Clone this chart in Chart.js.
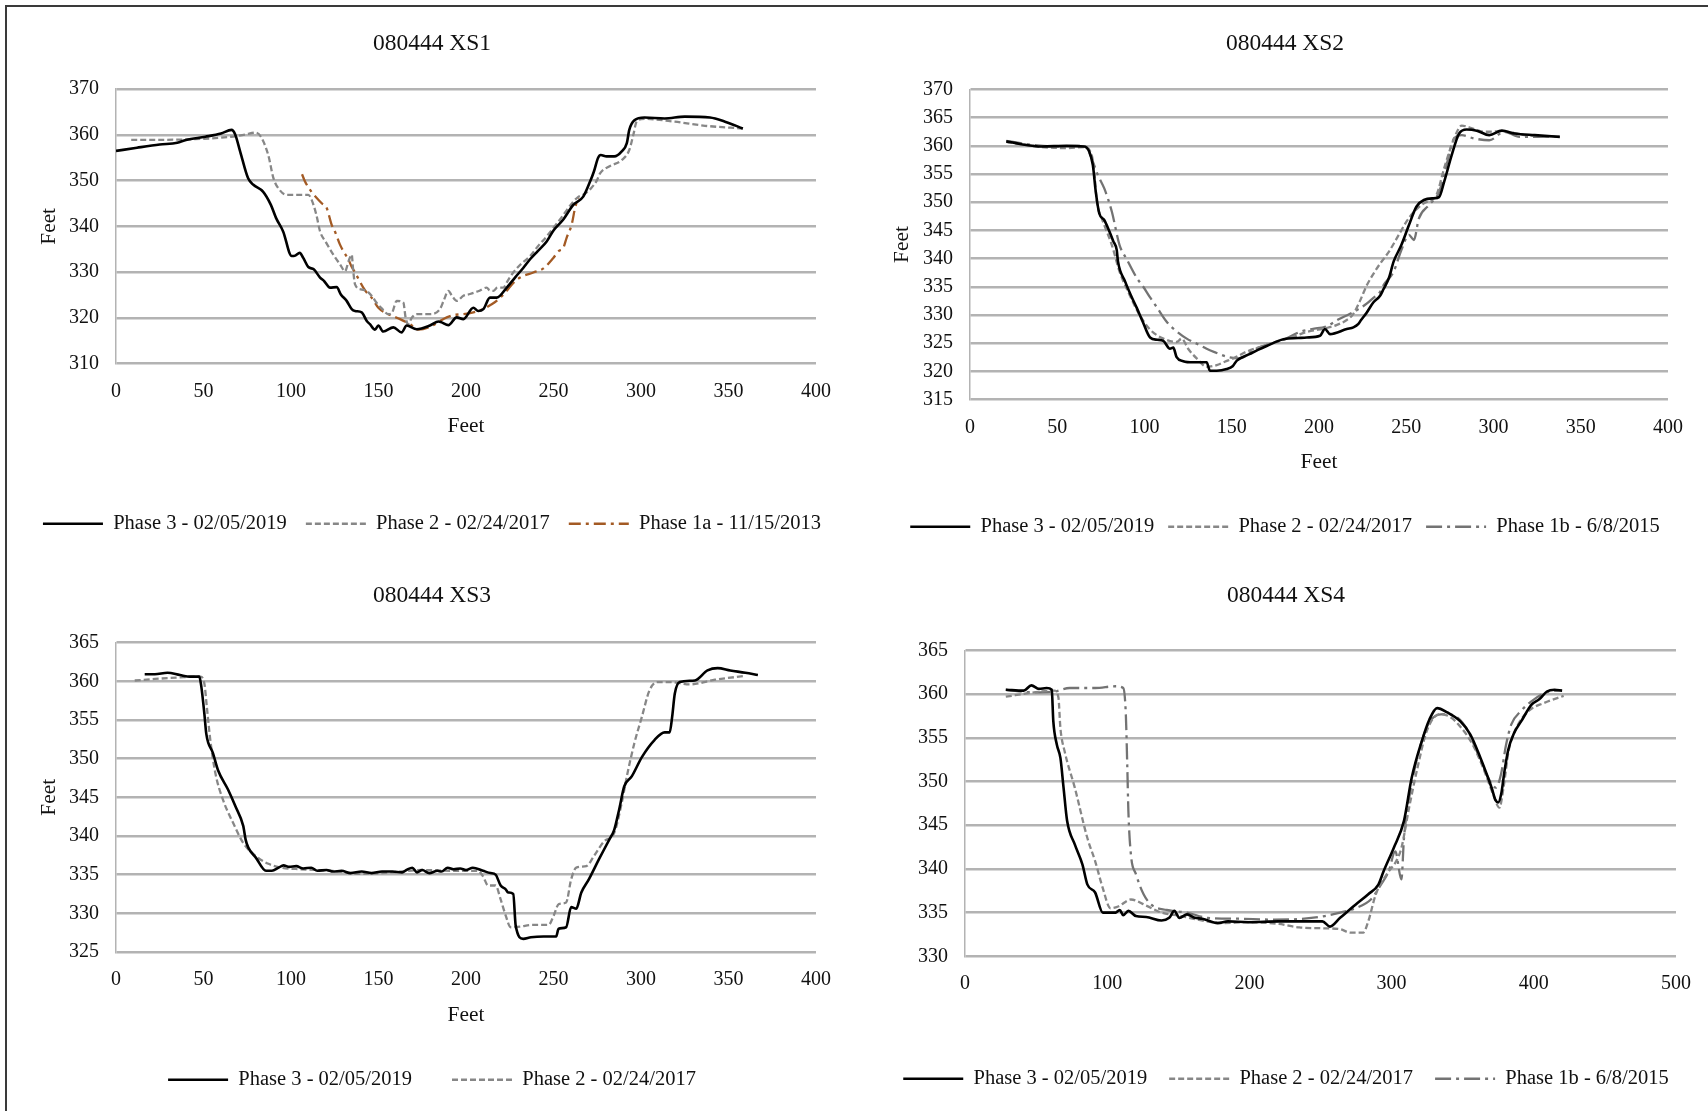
<!DOCTYPE html>
<html>
<head>
<meta charset="utf-8">
<title>080444 cross sections</title>
<script src="https://cdn.jsdelivr.net/npm/chart.js@4.4.1/dist/chart.umd.min.js"></script>
<style>
  html, body { margin: 0; padding: 0; background: #fff; }
  #page { position: relative; width: 1708px; height: 1111px; overflow: hidden; background: #fff; }
  #frame { position: absolute; left: 5px; top: 5px; right: -10px; bottom: -10px;
           border-top: 2px solid #3a3a3a; border-left: 2px solid #3a3a3a; }
  canvas { position: absolute; }
</style>
</head>
<body>
<div id="page">
  <div id="frame"></div>
  <canvas id="xs1" width="844" height="534" style="left:10px;top:10px;width:844px;height:534px"></canvas>
  <canvas id="xs2" width="846" height="537" style="left:862px;top:10px;width:846px;height:537px"></canvas>
  <canvas id="xs3" width="844" height="535" style="left:10px;top:565px;width:844px;height:535px"></canvas>
  <canvas id="xs4" width="844" height="534" style="left:864px;top:565px;width:844px;height:534px"></canvas>
</div>
<script>
// ── data: [station (ft), elevation (ft)] ──
const XS1_P3 = [[0,356.5],[12,357.2],[25,357.9],[35,358.3],[40,358.9],[51,359.6],[60,360.3],[66,361.1],[68,360.2],[71,356.3],[75.5,350.5],[78.5,349.1],[84,347.6],[88.5,344.7],[91.5,341.8],[95.5,338.9],[100.4,333.5],[102.4,333.6],[105,334.2],[107,333.1],[109.9,331.1],[113,330.6],[116.6,328.8],[119,328],[122.3,326.6],[126.1,326.7],[128.5,325.1],[131.8,323.7],[134.7,321.9],[136.6,321.5],[140.4,321.2],[143.3,319.3],[145.1,318.6],[148,317.4],[149.9,318.3],[152.7,317],[158.5,317.9],[163.2,316.8],[166.1,318.3],[171.8,317.5],[179.4,318.3],[184.3,319.2],[186.1,319],[189.9,318.4],[194.7,320.1],[198.5,319.7],[204.2,322.2],[207,321.5],[209.9,321.9],[213.7,324.4],[217.5,324.4],[223.3,326.6],[228,328.8],[232.7,330.9],[236.6,332.8],[241,334.6],[246.1,336.7],[250,339.1],[255.6,341.5],[261.3,344.7],[267,346.5],[270.9,349.8],[273.1,352],[275.5,355],[277,355.6],[280.3,355.3],[284.7,355.3],[289,356.4],[291.9,358.2],[293.3,361.1],[296.2,363.2],[302,363.8],[313.5,363.6],[325,364],[339.4,363.8],[348,362.9],[358.2,361.4]];
const XS1_P2 = [[8.7,358.9],[39.5,359],[65.5,359.6],[74,360.1],[79.9,360.5],[82.8,359.6],[87,355.6],[90,350.5],[93,348.2],[97.5,346.9],[109.9,346.9],[111.8,345.8],[114.5,342.5],[116.6,338.9],[120,336.5],[124.2,333.8],[128,331.7],[130.9,330.2],[133,332.5],[134.7,333.8],[135.5,330.5],[136.6,327.3],[140,326.2],[143.2,325.9],[146.5,324.6],[148.9,323.3],[152,322],[155.6,320.8],[157.7,321.1],[160.4,323.7],[164.2,323.3],[165.5,320],[167,318.6],[169,320],[171.8,320.8],[179.4,320.8],[185.1,321.9],[187.5,324],[189.9,325.9],[192,324.8],[194.7,323.7],[198.5,324.8],[202.3,325.2],[207,325.8],[211.8,326.6],[213.5,326],[215.6,325.9],[218,326.6],[221.3,326.6],[224,328.2],[227,329.9],[231,331.6],[236.6,333.5],[241,335.6],[246.1,337.8],[250,339.7],[253.7,341.5],[257.5,343.5],[261.3,345.4],[264,346.4],[267,346.9],[271.6,348.4],[274.7,350],[276.6,351.6],[281.8,353.1],[289,354.5],[293.3,356.7],[295.6,360],[297.6,363],[302,363.5],[319.3,362.9],[336.6,362],[358.2,361.4]];
const XS1_P1A = [[106.3,351.4],[108,349.8],[111.6,347.6],[114.7,346.2],[117.4,345.1],[120.4,344],[123.2,340.4],[125.5,338.5],[128,336],[130.5,334.2],[132.8,332.8],[134.5,331.3],[136.6,329.9],[139,328.2],[141.3,326.6],[143.5,325.4],[146.1,324.4],[149.9,322.2],[155.6,320.8],[162.3,319.7],[168,318.6],[172.8,317.4],[179.4,318],[185.1,319.3],[189,320.1],[193,320.6],[198.5,320.8],[204.2,321.2],[209.9,321.9],[213.5,322.7],[217.5,323.7],[223.3,325.9],[226.5,327.4],[230.9,328.8],[238.5,329.9],[244.2,330.8],[249.9,333.1],[253,334.6],[255.6,335.3],[257.5,337.5],[260.4,340.4],[262.3,344],[264.2,346.2]];

const XS2_P3 = [[20.8,360.8],[29.4,360.3],[41,359.9],[55.4,360],[65.5,359.9],[68.3,359],[70.4,356.6],[72.1,351.8],[74.1,348],[77,346.8],[79.9,344.8],[82.1,343.1],[84.1,341.5],[84.8,339.5],[88.8,336],[92.9,333],[95.5,331.3],[99,328.8],[103.2,326],[107.3,325.6],[110.8,325.4],[114.6,324],[116.5,324.2],[118.4,322.5],[122.2,321.8],[127.9,321.6],[135.6,321.6],[137.5,320.1],[141.4,320.1],[147.1,320.4],[150.5,320.9],[152.9,321.9],[160.5,323.1],[165,323.8],[170,324.5],[179.6,325.7],[188,325.9],[193,326],[200.6,326.3],[203.4,327.5],[206.3,326.6],[215.9,327.5],[219.7,327.8],[222.6,328.4],[224.1,329.1],[227.3,330.4],[231.1,332.2],[235,333.4],[237,334.6],[240,336.5],[242.8,339.5],[247.2,342.4],[251.5,345.9],[255.8,349.2],[260.1,350.4],[265.9,350.7],[268.8,350.9],[271.7,353.6],[276,358.3],[280.3,362.2],[284.6,362.9],[290.4,362.7],[297.6,361.9],[304.8,362.7],[312.1,362.2],[323.6,361.9],[338,361.6]];
const XS2_P2 = [[20.8,360.7],[41,359.8],[55.4,359.6],[65.5,359.8],[69.8,358.3],[71.2,355.4],[72.7,350.1],[75.6,347.1],[81.3,342.4],[85.7,337.7],[91.4,333.6],[97.2,330],[103.2,327.4],[110.8,325.8],[118.4,325.2],[121.3,325.8],[125,324],[129.9,322.3],[135.6,320.8],[141.4,321.1],[146,321.7],[150.9,322.3],[158.6,323.5],[170,324.7],[179.6,325.6],[186,326.2],[193,327],[204.4,327.7],[210,328.2],[215.9,329.1],[219.7,330.2],[223.5,332.5],[227.3,335.2],[231,337.2],[235,339.1],[240,341.2],[245.7,344.2],[250,346.5],[254.4,348.3],[260.1,349.8],[267.3,351.3],[271.7,356],[277.4,361.3],[281.8,363.6],[286,363.3],[294.7,362.5],[304.8,362.6],[317.8,361.9],[338,361.6]];
const XS2_P1B = [[20.8,360.9],[35,360.2],[50,359.9],[62,360],[67,359.7],[69.8,357.7],[73.3,354.8],[77,352.4],[81.3,348.3],[85.7,342.4],[89.8,339.9],[95.7,336.5],[99.3,335],[103,333.2],[107,331.4],[112.7,328.8],[118,327.2],[124.2,325.8],[130,324.9],[135.6,324],[141,323.3],[147.1,322.6],[154.7,322.3],[162.4,323.8],[170,324.7],[179.6,325.6],[189.1,327],[196,327.5],[204.4,328],[211,329.2],[217.8,330.2],[223,331.1],[227.3,332],[231,333],[235,334.1],[237,335.3],[242.8,337.7],[247.2,341.5],[251.5,344.2],[254.4,343.3],[257.2,347.1],[263,349.5],[268.8,351.8],[273.1,356.6],[277.4,361.3],[281.8,361.9],[289,361.3],[297.6,361],[306.3,362.5],[314.9,361.6],[338,361.6]];

const XS3_P3 = [[16.4,360.9],[22.2,360.9],[29.4,361.1],[36.6,360.8],[42.4,360.6],[47.6,360.6],[48.7,359.4],[50.5,355.8],[51.6,353.2],[55.4,350.7],[58.3,348.5],[64,346],[68.3,343.8],[72.7,341.3],[74.1,339.5],[75.6,338.5],[79.9,337.2],[85.7,335.5],[89.1,335.5],[92.9,335.9],[95.7,336.2],[99,336],[103,336.1],[107,335.8],[111.6,335.9],[115,335.5],[120.3,335.6],[124,335.4],[128.9,335.5],[134,335.2],[140.4,335.4],[146,335.2],[152,335.4],[158,335.4],[163.5,335.3],[166,335.6],[169.3,335.9],[172,335.3],[175,335.6],[179,335.2],[183.7,335.5],[186,335.4],[189.5,335.9],[193,335.7],[196.7,335.8],[200,335.6],[203.9,335.9],[209.7,335.5],[214,335.2],[216.9,335],[219.8,333.6],[222.7,333.1],[224.1,332.7],[227,332.5],[228.4,328.4],[232.7,326.7],[237.1,326.9],[244.3,327],[251.5,327],[252.9,328],[257.2,328.2],[260.1,330.8],[263,330.6],[265.9,332.7],[270.2,334.4],[276,337],[281.8,339.5],[284.7,340.8],[287.5,343.4],[290.4,346.4],[294.7,347.7],[300.5,350.2],[307.7,352.4],[313.5,353.4],[316.4,353.4],[317.8,355.4],[319.3,358.4],[322.1,359.9],[330.8,360.1],[338,361.4],[343.8,361.7],[351,361.4],[359.6,361.1],[366.8,360.8]];
const XS3_P2 = [[10.7,360.1],[22.2,360.3],[36.6,360.5],[48.2,360.6],[50.5,359.7],[51.9,356.7],[53.9,352.4],[56.8,348.1],[61.1,344.7],[66.9,341.7],[72.7,339.1],[79.9,337.4],[87.1,336.4],[94.3,335.9],[105.8,335.7],[123.1,335.5],[140.4,335.1],[157.7,335.3],[175,335.6],[192.4,335.5],[206.8,335.5],[209.7,334.8],[212.6,333.6],[216.9,333.6],[219.8,331.8],[222.7,329.7],[225.5,328.2],[231.3,328.3],[237.1,328.5],[247.2,328.5],[250.1,329.7],[253,331.2],[257.2,331.4],[260.1,334.4],[263,335.9],[268.8,336.1],[273.1,337.4],[278.9,339.3],[284.7,340.4],[289,344.3],[291.9,347.7],[296.2,352],[300.5,355.4],[304.8,358.8],[309.2,359.9],[316.4,359.9],[327.9,359.6],[342.3,360.2],[359.6,360.7]];

const XS4_P3 = [[28.7,360.5],[41.3,360.4],[46.7,361],[52,360.6],[57.4,360.7],[61,360.5],[62.1,356.9],[64.6,354.2],[67.1,352.7],[69.3,349.3],[71.8,345.5],[77.2,342.8],[82.6,340.5],[86.1,338.2],[91.5,337.3],[96.9,335],[105.9,335],[108.8,335.3],[111.3,334.7],[114.9,335.2],[120.2,334.6],[127.4,334.5],[138.2,334.1],[143.6,334.4],[147.2,335.2],[150.8,334.4],[156.1,334.8],[161.5,334.4],[166.9,334.3],[177.7,333.8],[184.9,334],[199.2,333.9],[220.7,334],[238.7,334],[251.3,334],[256.6,333.4],[263.8,334.4],[274.6,335.9],[283.6,337.1],[290.7,338.2],[294.3,339.7],[301.5,342.4],[308.7,345.5],[314.1,350.4],[321.2,354.6],[326.6,357.1],[332,358.4],[339.2,357.9],[348.2,356.9],[355.3,355.4],[362.5,352.7],[367.9,350.4],[370.5,349.2],[373,347.9],[375,347.6],[377,348.5],[379.5,351.3],[382,353.6],[386,355.5],[391.2,356.9],[398.4,358.8],[403.8,359.4],[409.2,360.3],[414.6,360.5],[419.9,360.4]];
const XS4_P2 = [[28.7,359.7],[48.5,360.2],[62.8,360.4],[65.7,359.6],[67.1,356.1],[70,353.5],[77.2,349.3],[86.1,343.5],[91.5,340.9],[96.9,337.8],[102.3,335.5],[107.7,335.7],[116.7,336.5],[127.4,335.8],[138.2,335],[152.5,334.6],[163.3,334.2],[181.3,333.8],[199.2,333.9],[220.7,333.7],[235.1,333.3],[253.1,333.2],[263.8,333.1],[271,332.7],[280,332.7],[283.6,334],[288.9,337.1],[297.9,339.7],[303.3,340.9],[306.9,342.4],[312.3,347],[317.7,351.2],[324.8,355.8],[333.8,357.7],[341,357.4],[348.2,356.3],[357.1,354.2],[364.3,351.6],[371.5,348.5],[375.8,347],[378.7,349.3],[382.3,353.5],[387.6,356.1],[396.6,358.1],[407.4,359],[421,359.8]];
const XS4_P1B = [[28.7,360.5],[48.5,360.2],[62.8,360.3],[73.6,360.7],[91.5,360.7],[105.9,360.9],[111.3,360.7],[113.1,357.7],[114.1,351.9],[114.9,346.6],[116.7,341.6],[120.2,339.4],[125.6,337.1],[131,335.9],[141.8,335.3],[156.1,335],[170.5,334.4],[192,334.3],[217.2,334.2],[238.7,334.3],[253.1,334.6],[263.8,335],[274.6,335.5],[285.4,336.5],[292.5,338.2],[297.9,339.7],[302.6,342],[306.9,338.8],[308.7,343.5],[314.1,349.7],[321.2,354.6],[328.4,357.2],[337.4,357.7],[346.4,357.3],[353.6,355.8],[360.8,353.1],[368,350.4],[373.3,349.3],[376.9,350.8],[380.5,354.2],[384.1,356.5],[391.2,358.1],[400.2,359.4],[411,360.3],[419.9,360.4]];

const LABEL_P3 = 'Phase 3 - 02/05/2019';
const LABEL_P2 = 'Phase 2 - 02/24/2017';
const LABEL_P1A = 'Phase 1a - 11/15/2013';
const LABEL_P1B = 'Phase 1b - 6/8/2015';

// ── styles ──────────────────────────────────────
const FONT = "'Liberation Serif','Times New Roman',serif";
const INK = '#111111';
const GRID = '#b3b3b3';

const STYLE = {
  p3:  { color: '#000000', dash: [], width: 2.6 },
  p2:  { color: '#878787', dash: [6, 3], width: 2.3 },
  p1b: { color: '#737373', dash: [16, 5, 3, 5], width: 2.3 },
  p1a: { color: '#A35A24', dash: [12, 5, 3, 5], width: 2.3 }
};

Chart.defaults.font.family = FONT;
Chart.defaults.color = INK;

function series(label, pairs, style) {
  return {
    label,
    data: pairs.map(([x, y]) => ({ x, y })),
    borderColor: style.color,
    backgroundColor: style.color,
    borderDash: style.dash,
    borderWidth: style.width,
    pointRadius: 0,
    showLine: true,
    fill: false,
    cubicInterpolationMode: 'monotone'
  };
}

function crossSection(id, cfg) {
  const ctx = document.getElementById(id).getContext('2d');
  return new Chart(ctx, {
    type: 'scatter',
    data: { datasets: cfg.datasets },
    options: {
      responsive: false,
      animation: false,
      events: [],
      layout: { padding: 0 },
      plugins: {
        title: {
          display: true, text: cfg.title, color: INK,
          font: { size: 23.5, weight: 'normal' },
          padding: cfg.titlePad
        },
        legend: {
          position: 'bottom',
          labels: {
            usePointStyle: true, pointStyle: 'line', pointStyleWidth: 60, boxWidth: 60,
            font: { size: 20.5 }, color: INK, padding: cfg.legendPad,
            generateLabels: chart => chart.data.datasets.map((ds, i) => ({
              text: ds.label, fillStyle: ds.borderColor, strokeStyle: ds.borderColor,
              lineWidth: ds.borderWidth, lineDash: ds.borderDash, pointStyle: 'line',
              fontColor: INK, hidden: false, datasetIndex: i
            }))
          }
        },
        tooltip: { enabled: false }
      },
      scales: {
        x: {
          type: 'linear', min: cfg.xMin, max: cfg.xMax,
          ticks: { stepSize: cfg.xStep, padding: cfg.xTickPad, font: { size: 20 }, color: INK, maxRotation: 0, autoSkip: false },
          grid: { display: false, drawTicks: false },
          border: { display: false },
          title: { display: cfg.xTitle, text: 'Feet', color: INK, font: { size: 21.4 }, padding: { top: 0, bottom: cfg.xTitlePad } },
          afterFit: s => { s.height = cfg.xAxisH; }
        },
        y: {
          type: 'linear', min: cfg.yMin, max: cfg.yMax,
          ticks: { stepSize: cfg.yStep, padding: 17, font: { size: 20 }, color: INK, autoSkip: false, maxTicksLimit: 30 },
          grid: { color: GRID, lineWidth: 2.5, drawTicks: false },
          border: { display: true, color: GRID, width: 1.5 },
          title: { display: cfg.yTitle, text: 'Feet', color: INK, font: { size: 21.4 }, padding: { top: cfg.yTitlePad, bottom: 0 } },
          afterFit: s => { s.width = cfg.yAxisW; }
        },
        // spacer on the right so the plot stops short of the canvas edge
        yR: {
          type: 'linear', position: 'right', display: true,
          grid: { display: false, drawTicks: false },
          border: { display: false },
          ticks: { display: false },
          afterFit: s => { s.width = cfg.rightW; }
        }
      }
    }
  });
}

crossSection('xs1', {
  title: '080444 XS1',
  datasets: [series(LABEL_P3, XS1_P3, STYLE.p3), series(LABEL_P2, XS1_P2, STYLE.p2), series(LABEL_P1A, XS1_P1A, STYLE.p1a)],
  xMin: 0, xMax: 400, xStep: 50, yMin: 310, yMax: 370, yStep: 10,
  titlePad: { top: 19.5, bottom: 31.5 }, legendPad: 19,
  xAxisH: 131, xTickPad: 16.7, xTitle: true, xTitlePad: 55.7,
  yAxisW: 106, rightW: 38, yTitle: true, yTitlePad: 26.2
});

crossSection('xs2', {
  title: '080444 XS2',
  datasets: [series(LABEL_P3, XS2_P3, STYLE.p3), series(LABEL_P2, XS2_P2, STYLE.p2), series(LABEL_P1B, XS2_P1B, STYLE.p1b)],
  xMin: 0, xMax: 400, xStep: 50, yMin: 315, yMax: 370, yStep: 5,
  titlePad: { top: 19.5, bottom: 31.8 }, legendPad: 14,
  xAxisH: 103, xTickPad: 16.7, xTitle: true, xTitlePad: 27.7,
  yAxisW: 108, rightW: 40, yTitle: true, yTitlePad: 27.2
});

crossSection('xs3', {
  title: '080444 XS3',
  datasets: [series(LABEL_P3, XS3_P3, STYLE.p3), series(LABEL_P2, XS3_P2, STYLE.p2)],
  xMin: 0, xMax: 400, xStep: 50, yMin: 325, yMax: 365, yStep: 5,
  titlePad: { top: 16.9, bottom: 32.5 }, legendPad: 40,
  xAxisH: 77.5, xTickPad: 16.2, xTitle: true, xTitlePad: 1.7,
  yAxisW: 106, rightW: 38, yTitle: true, yTitlePad: 26.2
});

crossSection('xs4', {
  title: '080444 XS4',
  datasets: [series(LABEL_P3, XS4_P3, STYLE.p3), series(LABEL_P2, XS4_P2, STYLE.p2), series(LABEL_P1B, XS4_P1B, STYLE.p1b)],
  xMin: 0, xMax: 500, xStep: 100, yMin: 330, yMax: 365, yStep: 5,
  titlePad: { top: 16.9, bottom: 40.3 }, legendPad: 22,
  xAxisH: 90.2, xTickPad: 15.2, xTitle: false, xTitlePad: 0,
  yAxisW: 101, rightW: 32, yTitle: false, yTitlePad: 0
});
</script>
</body>
</html>
